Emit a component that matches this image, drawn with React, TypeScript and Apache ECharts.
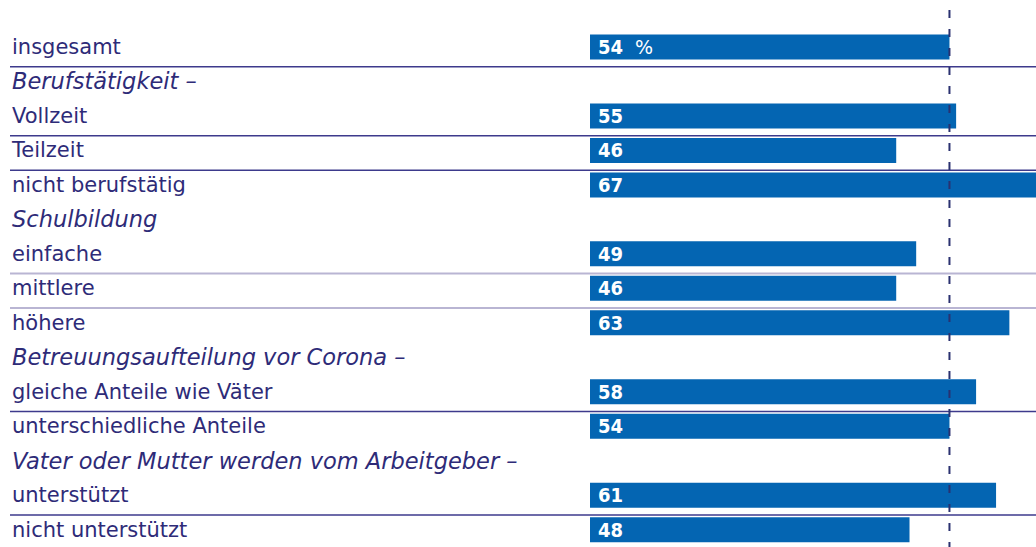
import React, { useEffect, useRef } from "react";
import * as echarts from "echarts";

const categories = [
  "insgesamt",
  "Berufstätigkeit –",
  "Vollzeit",
  "Teilzeit",
  "nicht berufstätig",
  "Schulbildung",
  "einfache",
  "mittlere",
  "höhere",
  "Betreuungsaufteilung vor Corona –",
  "gleiche Anteile wie Väter",
  "unterschiedliche Anteile",
  "Vater oder Mutter werden vom Arbeitgeber –",
  "unterstützt",
  "nicht unterstützt",
];
const values: (number | null)[] = [54, null, 55, 46, 67, null, 49, 46, 63, null, 58, 54, null, 61, 48];
const headers = [
  "Berufstätigkeit –",
  "Schulbildung",
  "Betreuungsaufteilung vor Corona –",
  "Vater oder Mutter werden vom Arbeitgeber –",
];
const averageValue = 54;
const separatorsAfter = [
  "insgesamt",
  "Vollzeit",
  "Teilzeit",
  "einfache",
  "mittlere",
  "gleiche Anteile wie Väter",
  "unterstützt",
];
const lightSeparators = ["einfache", "mittlere"];

const TEXT = "#2e2b78";
const BAR = "#0465b2";

export default function App() {
  const ref = useRef<HTMLDivElement>(null);
  useEffect(() => {
    const chart = echarts.init(ref.current!, null, { renderer: "svg" });
    chart.setOption({
      animation: false,
      backgroundColor: "#ffffff",
      grid: { left: 590, right: 0, top: 29.7, height: 518.6, containLabel: false },
      xAxis: { type: "value", min: 0, max: 67, show: false },
      yAxis: {
        type: "category",
        inverse: true,
        data: categories,
        axisLine: { show: false },
        axisTick: { show: false },
        splitLine: { show: false },
        axisLabel: {
          align: "left",
          margin: 578,
          fontFamily: "DejaVu Sans",
          fontSize: 21,
          color: TEXT,
          formatter: (v: string) => (headers.includes(v) ? `{h|${v}}` : `{n|${v}}`),
          rich: {
            h: { fontStyle: "italic", fontFamily: "DejaVu Sans", fontSize: 22.5, color: TEXT },
            n: { fontFamily: "DejaVu Sans", fontSize: 21, color: TEXT },
          },
        },
      },
      series: [
        {
          type: "bar",
          data: values,
          barWidth: 25,
          itemStyle: { color: BAR },
          label: {
            show: true,
            position: "insideLeft",
            distance: 8,
            formatter: (p: any) =>
              p.dataIndex === 0 ? `{b|${p.value}}{p|  %}` : `{b|${p.value}}`,
            rich: {
              b: {
                fontFamily: "DejaVu Sans Condensed",
                fontWeight: "bold",
                fontSize: 20,
                color: "#ffffff",
              },
              p: {
                fontFamily: "DejaVu Sans",
                fontSize: 19,
                color: "#ffffff",
              },
            },
          },
        },
      ],
    });

    const graphics: any[] = [];
    separatorsAfter.forEach((name) => {
      const i = categories.indexOf(name);
      const y1 = chart.convertToPixel({ yAxisIndex: 0 }, categories[i]) as number;
      const y2 = chart.convertToPixel({ yAxisIndex: 0 }, categories[i + 1]) as number;
      const y = (y1 + y2) / 2 + 2.5;
      const light = lightSeparators.includes(name);
      graphics.push({
        type: "line",
        shape: { x1: 10, y1: y, x2: 1036, y2: y },
        style: { stroke: light ? "#b9b5d3" : "#3d3a8c", lineWidth: light ? 2 : 1.5 },
        z: 1,
      });
    });
    const ax = chart.convertToPixel({ xAxisIndex: 0 }, averageValue) as number;
    graphics.push({
      type: "line",
      shape: { x1: ax, y1: 10, x2: ax, y2: 547 },
      style: { stroke: "#2a3170", lineWidth: 2, lineDash: [8, 11] },
      z: 100,
    });
    chart.setOption({ graphic: graphics });

    return () => chart.dispose();
  }, []);
  return (
    <div
      ref={ref}
      style={{ position: "absolute", left: 0, top: 0, width: 1036, height: 547 }}
    />
  );
}
